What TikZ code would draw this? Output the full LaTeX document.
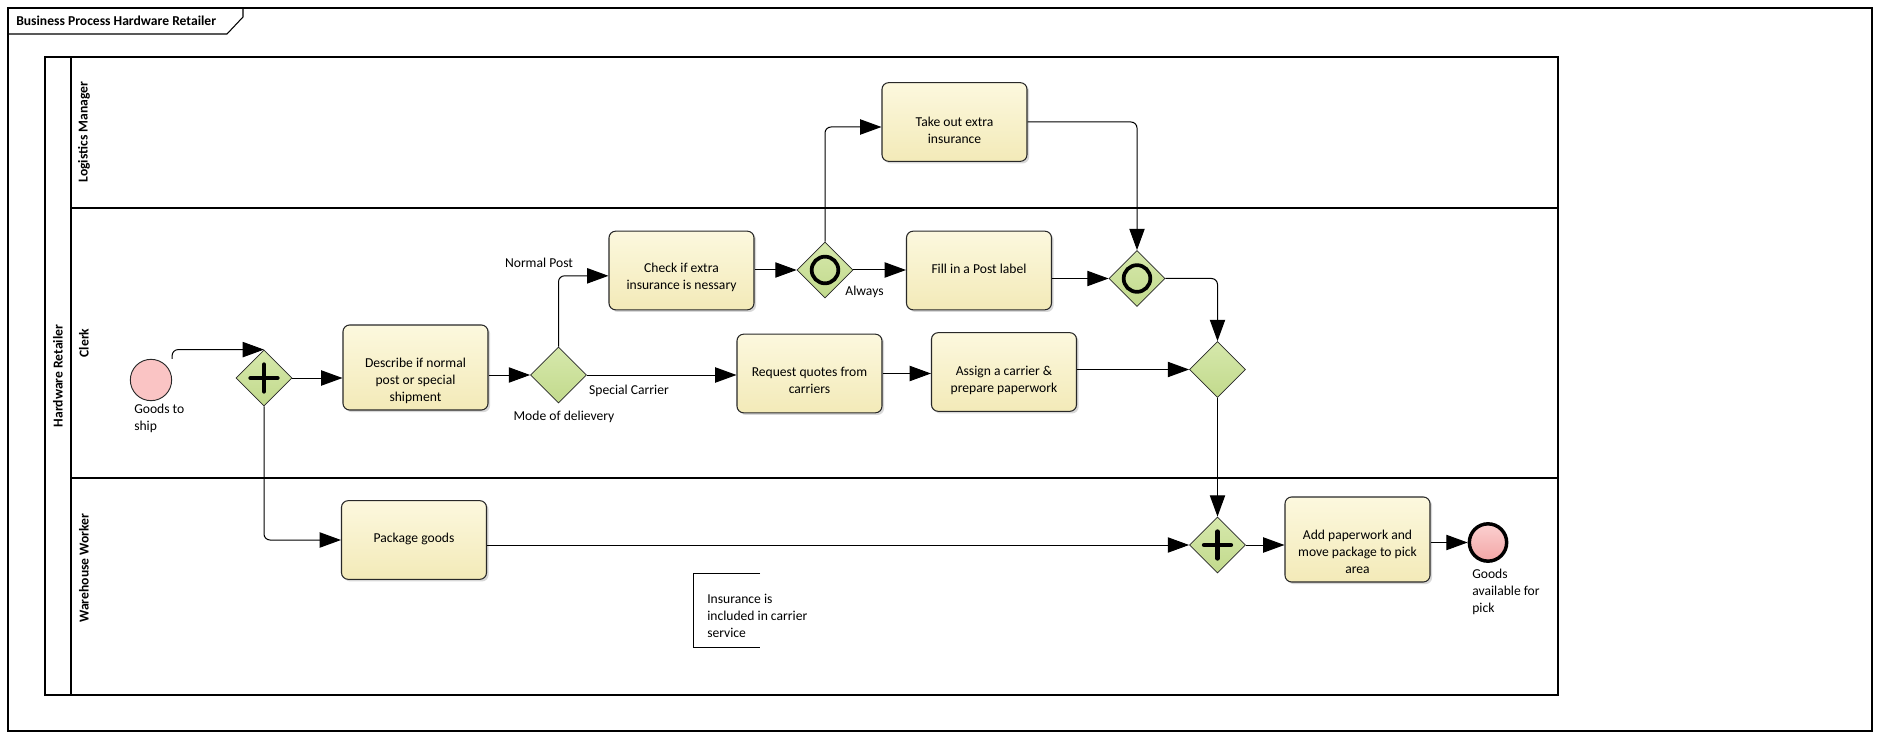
\documentclass[tikz,border=0pt]{standalone}
\usepackage{fontspec}
\setmainfont{Carlito}
\usetikzlibrary{shapes.geometric,arrows.meta,shadows}
\definecolor{taskTop}{RGB}{252,248,222}
\definecolor{taskBot}{RGB}{243,234,184}
\definecolor{gateTop}{RGB}{214,232,172}
\definecolor{gateBot}{RGB}{194,218,140}
\definecolor{startFill}{RGB}{250,196,196}
\definecolor{endTop}{RGB}{251,208,208}
\definecolor{endBot}{RGB}{243,166,166}
\definecolor{edge}{RGB}{40,40,40}
\newcommand{\diagfont}{\fontsize{10.2}{12.75}\selectfont}
\tikzset{
  task/.style={
    draw=edge, line width=0.8pt, rounded corners=5pt,
    top color=taskTop, bottom color=taskBot,
    minimum width=108.75pt, minimum height=59pt, inner sep=0pt,
    drop shadow={shadow xshift=1.6pt, shadow yshift=-1.6pt, fill=black!30}
  },
  tasktext/.style={align=center, inner sep=0pt},
  gate/.style={
    diamond, draw=edge, line width=0.6pt,
    top color=gateTop, bottom color=gateBot,
    minimum width=42pt, minimum height=42pt, inner sep=0pt
  },
  flow/.style={draw, line width=0.75pt, rounded corners=4.5pt,
    -{Triangle[length=16pt,width=11.5pt]}},
  lbl/.style={inner sep=0pt, align=left},
  lane/.style={rotate=90, font=\diagfont\bfseries, inner sep=0pt},
  plus/.style={line width=3.5pt, line cap=round},
  ring/.style={line width=2.8pt}
}

\begin{document}
\begin{tikzpicture}[x=0.75pt, y=-0.75pt, font=\diagfont]
  \useasboundingbox (0,0) rectangle (1879,738);

  % frame and title tab
  \draw[line width=0.8pt] (8,8) rectangle (1872,731);
  \draw[line width=0.8pt] (8,34) -- (227,34) -- (243,17) -- (243,8);
  \node[anchor=west, inner sep=0pt, font=\diagfont\bfseries] (title) at (16,21) {Business Process Hardware Retailer};

  % pool and lanes
  \draw[line width=0.8pt] (45,57) rectangle (1558,695);
  \draw[line width=0.8pt] (71,57) -- (71,695);
  \draw[line width=0.8pt] (71,208) -- (1558,208);
  \draw[line width=0.8pt] (71,478) -- (1558,478);
  \node[lane] (pool-l) at (58,376) {Hardware Retailer};
  \node[lane] (logist-l) at (84,132) {Logistics Manager};
  \node[lane] (clerk-l) at (84,343) {Clerk};
  \node[lane] (ware-l) at (84,568) {Warehouse Worker};

  % events
  \node[circle, draw=edge, line width=0.7pt, fill=startFill, minimum size=31pt, inner sep=0pt] (start) at (151,380) {};
  \node[lbl, anchor=west] (start-l) at (134,418) {Goods to\\ship};
  \node[circle, draw=black, line width=2.6pt, top color=endTop, bottom color=endBot, minimum size=28pt, inner sep=0pt] (finish) at (1488,542.5) {};
  \node[lbl, anchor=west] (finish-l) at (1472,592) {Goods\\available for\\pick};

  % tasks
  \node[task, minimum height=63.75pt] (describe) at (415.5,367.5) {};
  \node[tasktext] (describe-t) at ([yshift=-10pt]describe.center) {Describe if normal\\post or special\\shipment};
  \node[task] (check) at (681.5,270.5) {};
  \node[tasktext] (check-t) at ([yshift=-5pt]check.center) {Check if extra\\insurance is nessary};
  \node[task] (takeout) at (954.5,122) {};
  \node[tasktext] (takeout-t) at ([yshift=-6pt]takeout.center) {Take out extra\\insurance};
  \node[task] (fillin) at (979,270.5) {};
  \node[tasktext] (fillin-t) at ([yshift=1.5pt]fillin.center) {Fill in a Post label};
  \node[task] (request) at (809.5,373.5) {};
  \node[tasktext] (request-t) at ([yshift=-5.3pt]request.center) {Request quotes from\\carriers};
  \node[task] (assign) at (1004,372) {};
  \node[tasktext] (assign-t) at ([yshift=-6pt]assign.center) {Assign a carrier \&\\prepare paperwork};
  \node[task] (package) at (414,540) {};
  \node[tasktext] (package-t) at ([yshift=1pt]package.center) {Package goods};
  \node[task, minimum height=63.75pt] (addwork) at (1357.5,539.5) {};
  \node[tasktext] (addwork-t) at ([yshift=-9.5pt]addwork.center) {Add paperwork and\\move package to pick\\area};

  % gateways
  \node[gate] (fork) at (264,378) {};
  \node[gate] (mode) at (558.5,375) {};
  \node[gate] (insur) at (825,270) {};
  \node[gate] (merge) at (1137,278.5) {};
  \node[gate] (join) at (1217.5,369.5) {};
  \node[gate] (sync) at (1217.5,545) {};
  \foreach \g in {fork,sync} {
    \draw[plus] ([xshift=-10pt]\g.center) -- ([xshift=10pt]\g.center);
    \draw[plus] ([yshift=-10pt]\g.center) -- ([yshift=10pt]\g.center);
  }
  \foreach \g in {insur,merge}
    \draw[ring] (\g) circle[radius=10pt];
  \node[lbl] (mode-l) at (564,417) {Mode of delievery};

  % flows
  \draw[flow] (start.north -| start.east) |- (fork.north);
  \draw[flow] (fork.east) -- (fork -| describe.west);
  \draw[flow] (fork.south) |- (package.west);
  \draw[flow] (describe.east |- mode) -- (mode.west);
  \draw[flow] (mode.north) |- ([yshift=-4pt]check.west);
  \draw[flow] (mode.east) -- (mode -| request.west);
  \draw[flow] (check.east |- insur) -- (insur.west);
  \draw[flow] (insur.north) |- ([yshift=-3.75pt]takeout.west);
  \draw[flow] (insur.east) -- (insur -| fillin.west);
  \draw[flow] (takeout.east) -| (merge.north);
  \draw[flow] (fillin.east |- merge) -- (merge.west);
  \draw[flow] (merge.east) -| (join.north);
  \draw[flow] (request.east) -- (request.east -| assign.west);
  \draw[flow] (join -| assign.east) -- (join.west);
  \draw[flow] (join.south) -- (sync.north);
  \draw[flow] (sync -| package.east) -- (sync.west);
  \draw[flow] (sync.east) -- (sync -| addwork.west);
  \draw[flow] (addwork.east |- finish) -- (finish.west);
  \node[lbl] (normal-l) at (539,263) {Normal Post};
  \node[lbl] (special-l) at (629,391) {Special Carrier};
  \node[lbl] (always-l) at (864.5,292) {Always};

  % annotation
  \node[lbl, anchor=west] (note) at (707,616) {Insurance is\\included in carrier\\service};
  \draw[line width=0.75pt] (760,573) -- (693,573) -- (693,647) -- (760,647);
\end{tikzpicture}
\end{document}
